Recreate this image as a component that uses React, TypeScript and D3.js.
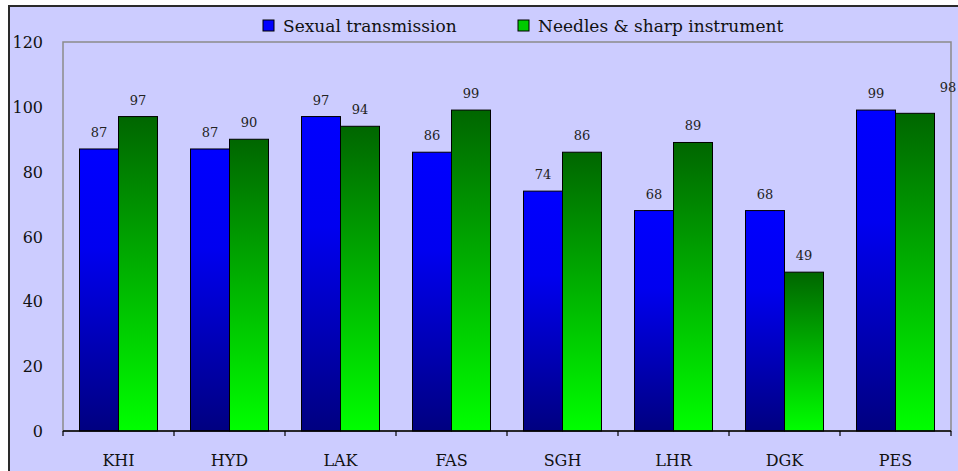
import * as d3 from "d3";
import { useEffect, useRef } from "react";

const cities = ["KHI", "HYD", "LAK", "FAS", "SGH", "LHR", "DGK", "PES"];
const sexual = [87, 87, 97, 86, 74, 68, 68, 99];
const needles = [97, 90, 94, 99, 86, 89, 49, 98];
const yTicks = [0, 20, 40, 60, 80, 100, 120];
const seriesNames = ["Sexual transmission", "Needles & sharp instrument"];

const App = () => {
  const svgRef = useRef<SVGSVGElement | null>(null);
  const w = 958;
  const h = 471;
  const m = { top: 42, right: 7, bottom: 40, left: 63 };
  const font = "'DejaVu Serif', 'Liberation Serif', serif";

  useEffect(() => {
    if (!svgRef.current) return;
    const svg = d3.select(svgRef.current).attr("viewBox", `0 0 ${w} ${h}`);
    svg.selectAll("*").remove();

    const defs = svg.append("defs");
    const blue = defs.append("linearGradient").attr("id", "gBlue")
      .attr("x1", 0).attr("y1", 0).attr("x2", 0).attr("y2", 1);
    blue.append("stop").attr("offset", "0%").attr("stop-color", "#0000ff");
    blue.append("stop").attr("offset", "35%").attr("stop-color", "#0000f0");
    blue.append("stop").attr("offset", "100%").attr("stop-color", "#000080");
    const green = defs.append("linearGradient").attr("id", "gGreen")
      .attr("x1", 0).attr("y1", 0).attr("x2", 0).attr("y2", 1);
    green.append("stop").attr("offset", "0%").attr("stop-color", "#006600");
    green.append("stop").attr("offset", "100%").attr("stop-color", "#00ff00");

    // frame
    svg.append("rect").attr("x", 0).attr("y", 0).attr("width", w).attr("height", h)
      .attr("fill", "#ffffff");
    svg.append("rect").attr("x", 9).attr("y", 6).attr("width", w).attr("height", h)
      .attr("fill", "#ccccff").attr("stroke", "#2a2a2a").attr("stroke-width", 2);

    const iw = w - m.left - m.right;
    const ih = h - m.top - m.bottom;

    const x = d3.scaleBand().domain(cities).range([0, iw]).paddingInner(0).paddingOuter(0);
    const inner = d3.scaleBand().domain(["s", "n"]).range([16.5, x.bandwidth() - 16.5]);
    const y = d3.scaleLinear().domain([0, 120]).range([ih, 0]);

    const g = svg.append("g").attr("transform", `translate(${m.left},${m.top})`);

    g.append("rect").attr("x", 0).attr("y", 0).attr("width", iw).attr("height", ih)
      .attr("fill", "none").attr("stroke", "#8a8a8a").attr("stroke-width", 1.5);

    const rows = cities.map((c, i) => ({ c, s: sexual[i], n: needles[i] }));

    const groups = g.selectAll("g.cat").data(rows).enter().append("g")
      .attr("transform", d => `translate(${x(d.c)},0)`);

    groups.append("rect")
      .attr("x", inner("s")!)
      .attr("y", d => y(d.s))
      .attr("width", inner.bandwidth())
      .attr("height", d => ih - y(d.s))
      .attr("fill", "url(#gBlue)")
      .attr("stroke", "#000").attr("stroke-width", 1);

    groups.append("rect")
      .attr("x", inner("n")!)
      .attr("y", d => y(d.n))
      .attr("width", inner.bandwidth())
      .attr("height", d => ih - y(d.n))
      .attr("fill", "url(#gGreen)")
      .attr("stroke", "#000").attr("stroke-width", 1);

    // value labels
    groups.append("text")
      .attr("x", inner("s")! + inner.bandwidth() / 2)
      .attr("y", d => y(d.s) - 12)
      .attr("text-anchor", "middle")
      .attr("font-family", font).attr("font-size", 13).attr("fill", "#222")
      .text(d => d.s);

    // last label sits off to the right, as Excel placed it
    groups.append("text")
      .attr("x", (d, i) => inner("n")! + inner.bandwidth() / 2 + (i === cities.length - 1 ? 33 : 0))
      .attr("y", (d, i) => y(d.n) - (i === cities.length - 1 ? 21 : 12))
      .attr("text-anchor", "middle")
      .attr("font-family", font).attr("font-size", 13).attr("fill", "#222")
      .text(d => d.n);

    // x axis
    const xAxis = g.append("g").attr("transform", `translate(0,${ih})`);
    xAxis.append("line").attr("x1", 0).attr("x2", iw).attr("stroke", "#000").attr("stroke-width", 1.5);
    const bounds = d3.range(cities.length + 1).map(i => i * x.bandwidth());
    xAxis.selectAll("line.tick").data(bounds).enter().append("line")
      .attr("x1", d => d).attr("x2", d => d).attr("y1", 0).attr("y2", 5)
      .attr("stroke", "#000").attr("stroke-width", 1.2);
    xAxis.selectAll("text").data(cities).enter().append("text")
      .attr("x", d => x(d)! + x.bandwidth() / 2)
      .attr("y", 35)
      .attr("text-anchor", "middle")
      .attr("font-family", font).attr("font-size", 16).attr("fill", "#111")
      .text(d => d);

    // y labels
    g.selectAll("text.ylab").data(yTicks).enter().append("text")
      .attr("x", -20)
      .attr("y", d => y(d) + 6)
      .attr("text-anchor", "end")
      .attr("font-family", font).attr("font-size", 16).attr("fill", "#111")
      .text(d => d);

    // legend
    const legend = svg.append("g").attr("transform", "translate(263,20)");
    const legX = [0, 255];
    const fills = ["#0000ff", "#00cc00"];
    seriesNames.forEach((name, i) => {
      legend.append("rect").attr("x", legX[i]).attr("y", 0).attr("width", 11).attr("height", 11)
        .attr("fill", fills[i]).attr("stroke", "#000").attr("stroke-width", 1);
      legend.append("text").attr("x", legX[i] + 20).attr("y", 11.5)
        .attr("font-family", font).attr("font-size", 17).attr("fill", "#111")
        .text(name);
    });
  }, []);

  return (
    <svg ref={svgRef} width={w} height={h}
      style={{ position: "absolute", left: 0, top: 0, display: "block" }} />
  );
};

export default App;
